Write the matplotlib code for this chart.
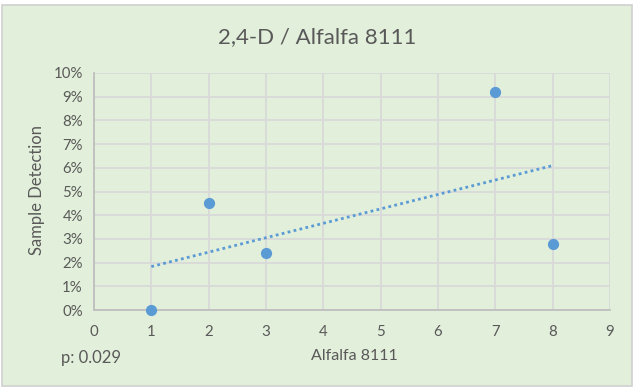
import matplotlib
matplotlib.use("Agg")
import matplotlib.pyplot as plt
import numpy as np
from matplotlib.ticker import FuncFormatter

x_vals = [1, 2, 3, 7, 8]
y_vals = [0.0, 4.5, 2.4, 9.2, 2.8]  # percent
title = "2,4-D / Alfalfa 8111"
x_label = "Alfalfa 8111"
y_label = "Sample Detection"
p_text = "p: 0.029"

plt.rcParams['font.family'] = ['Lato', 'DejaVu Sans']
bg = '#E2EFDA'
txt = '#595959'
grid_c = '#D9D9D9'
pt_c = '#5B9BD5'

fig = plt.figure(figsize=(6.34, 3.89), dpi=100)
fig.patch.set_facecolor('white')
# chart area background with border
fig.add_artist(plt.Rectangle((2/634, 1-386/389), 630/634, 381/389, transform=fig.transFigure,
                             facecolor=bg, edgecolor='#D0D0D0', linewidth=1.2, zorder=0))

ax = fig.add_axes([94/634, 1-310/389, (610-94)/634, (310-73)/389])
ax.set_facecolor(bg)

ax.set_xlim(0, 9)
ax.set_ylim(0, 10)
ax.set_xticks(range(0, 10))
ax.set_yticks(range(0, 11))
ax.yaxis.set_major_formatter(FuncFormatter(lambda v, p: f"{int(v)}%"))
ax.grid(True, color=grid_c, linewidth=1.3)
ax.set_axisbelow(True)
for s in ['top', 'right']:
    ax.spines[s].set_visible(False)
for s in ['left', 'bottom']:
    ax.spines[s].set_color('#BFBFBF')
    ax.spines[s].set_linewidth(1.3)
ax.tick_params(length=0, colors=txt, labelsize=10.8)
ax.tick_params(axis='x', pad=11)
ax.tick_params(axis='y', pad=8)

# trendline (linear least squares)
slope, intercept = np.polyfit(x_vals, y_vals, 1)
xt = np.array([min(x_vals), max(x_vals)])
ax.plot(xt, slope*xt + intercept, linestyle=(0, (1, 1.2)), color=pt_c, linewidth=2, zorder=2)

ax.scatter(x_vals, y_vals, s=50, color=pt_c, zorder=3, clip_on=False)

fig.text(317/634, 1-37/389, title, ha='center', va='center', fontsize=16, color=txt)
fig.text(354/634, 1-356/389, x_label, ha='center', va='center', fontsize=11.5, color=txt)
fig.text(37/634, 1-190/389, y_label, ha='center', va='center', rotation=90, fontsize=12, color=txt)
fig.text(61/634, 1-358/389, p_text, ha='left', va='center', fontsize=12, color=txt)

fig.savefig("out.png", dpi=100, facecolor='white')
